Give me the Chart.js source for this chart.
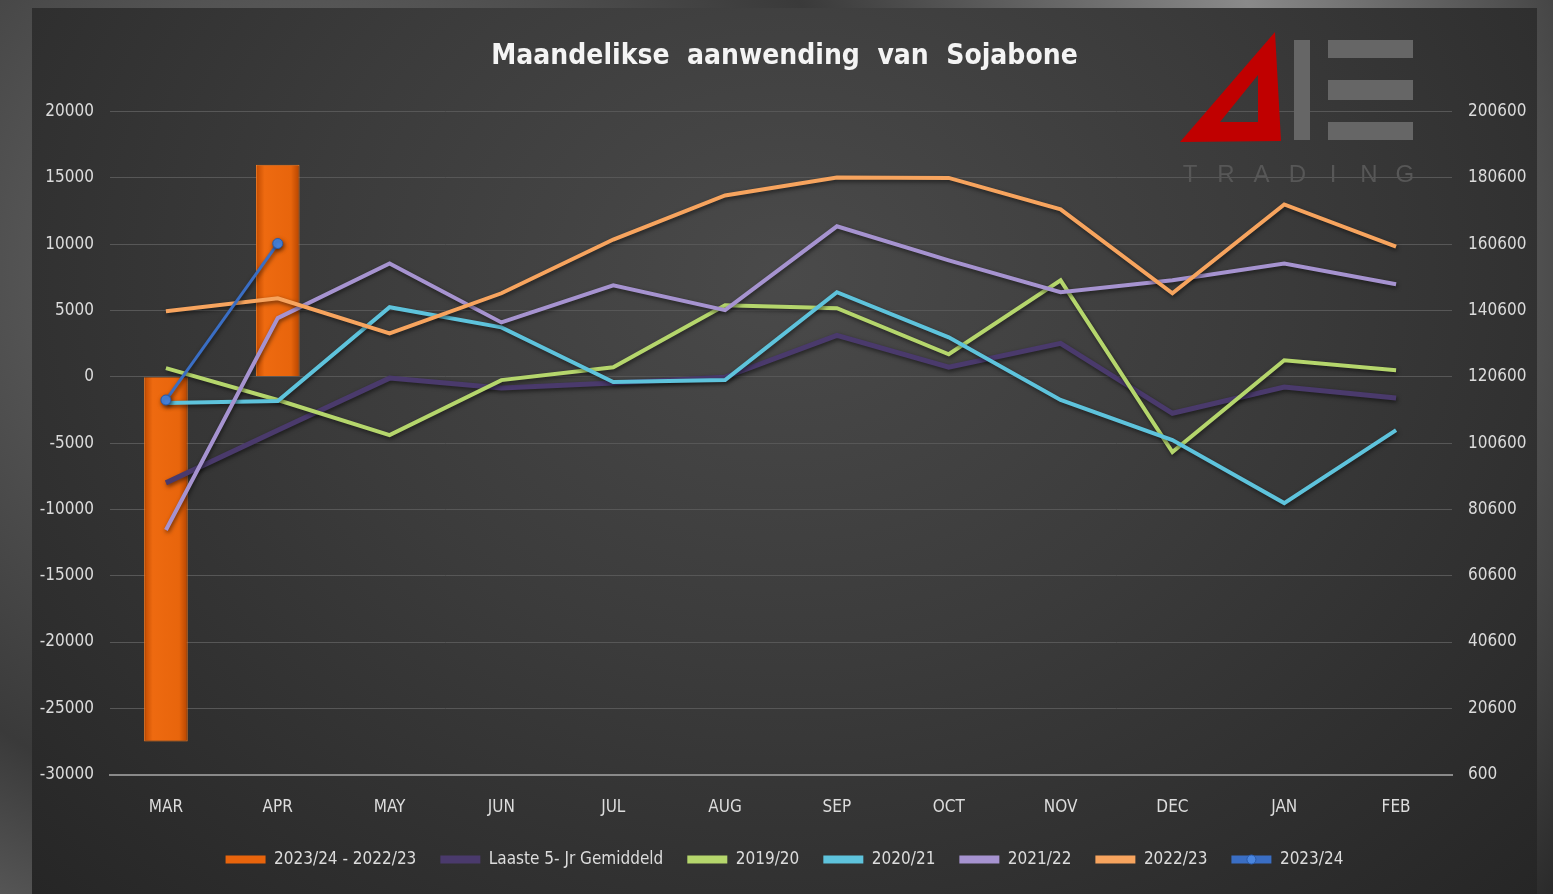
<!DOCTYPE html>
<html>
<head>
<meta charset="utf-8">
<script src="https://cdn.jsdelivr.net/npm/chart.js@4/dist/chart.umd.min.js"></script>
<style>
  html, body { margin: 0; padding: 0; }
  body {
    width: 1553px; height: 894px; overflow: hidden;
    background: radial-gradient(circle at 20% 30%, #6e6e6e 0%, #3a3a3a 40%, #8a8a8a 70%, #2a2a2a 100%);
  }
  #panel {
    position: absolute; left: 32px; top: 8px; width: 1505px; height: 886px;
    background: radial-gradient(ellipse at 50% 30%, #4a4a4a 0%, #3b3b3b 45%, #262626 100%);
  }
  #chart { position: absolute; left: 0; top: 0; }
</style>
</head>
<body>
<div id="panel"><canvas id="chart" width="1505" height="886"></canvas></div>
<script>
// categories
const months = ['MAR', 'APR', 'MAY', 'JUN', 'JUL', 'AUG', 'SEP', 'OCT', 'NOV', 'DEC', 'JAN', 'FEB'];

// verskil 2023/24 - 2022/23 (linker as)
const diff = [-27500, 16000, null, null, null, null, null, null, null, null, null, null];

// reekse op die regter as
const avg5 = [88600, 104500, 120200, 117200, 118700, 120500, 133100, 123500, 130700, 109600, 117500, 114200];
const s2019 = [123200, 113600, 103000, 119600, 123500, 142200, 141300, 127400, 149700, 97900, 125600, 122600];
const s2020 = [112700, 113300, 141600, 135500, 119000, 119600, 146100, 132500, 113600, 101500, 82500, 104500];
const s2021 = [74400, 138300, 154800, 137000, 148200, 140700, 166000, 155700, 146100, 149700, 154800, 148500];
const s2022 = [140400, 144300, 133700, 145800, 162000, 175300, 180700, 180600, 171100, 145800, 172600, 159900];
const s2023 = [113600, 160800, null, null, null, null, null, null, null, null, null, null];

const FONT = "'DejaVu Sans Condensed', 'Liberation Sans Narrow', 'Roboto Condensed', 'Liberation Sans', sans-serif";

// oranje staaf met 'n effense 3D-gradient
function barFill(ctx) {
  const chart = ctx.chart;
  const xs = chart.scales && chart.scales.x;
  if (!xs || !chart.chartArea || ctx.dataIndex === undefined) return '#e0600a';
  const cx = xs.getPixelForValue(ctx.dataIndex);
  if (!Number.isFinite(cx)) return '#e0600a';
  const w = 22;
  const g = chart.ctx.createLinearGradient(cx - w, 0, cx + w, 0);
  g.addColorStop(0, '#c04a00');
  g.addColorStop(0.2, '#ee6a10');
  g.addColorStop(0.8, '#e8650c');
  g.addColorStop(1, '#b44400');
  return g;
}

// logo regs bo
const logoPlugin = {
  id: 'logo',
  beforeDatasetsDraw(chart) {
    const c = chart.ctx;
    c.save();
    c.fillStyle = '#c00000';
    c.beginPath();
    c.moveTo(1148, 134);
    c.lineTo(1243, 24);
    c.lineTo(1249, 133);
    c.closePath();
    c.moveTo(1188, 114);
    c.lineTo(1226, 114);
    c.lineTo(1226, 67);
    c.closePath();
    c.fill('evenodd');
    c.fillStyle = '#666666';
    c.fillRect(1262, 32, 16, 100);
    c.fillRect(1296, 32, 85, 18);
    c.fillRect(1296, 72, 85, 20);
    c.fillRect(1296, 114, 85, 18);
    c.fillStyle = '#575757';
    c.font = "24px 'Liberation Sans', sans-serif";
    c.textAlign = 'center';
    c.textBaseline = 'middle';
    const letters = 'TRADING'.split('');
    letters.forEach((ch, i) => {
      c.fillText(ch, 1158 + i * 35.8, 167);
    });
    c.restore();
  }
};

// lyne kry 'n sagte skaduwee
const shadowPlugin = {
  id: 'lineShadow',
  beforeDatasetDraw(chart, args) {
    if (args.meta.type === 'line') {
      const c = chart.ctx;
      c.save();
      c.shadowColor = 'rgba(0,0,0,0.55)';
      c.shadowBlur = 4;
      c.shadowOffsetX = 1;
      c.shadowOffsetY = 2;
    }
  },
  afterDatasetDraw(chart, args) {
    if (args.meta.type === 'line') chart.ctx.restore();
  }
};

// merker-kolletjie op die legende van 2023/24
const legendMarker = {
  id: 'legendMarker',
  afterDraw(chart) {
    const lg = chart.legend;
    if (!lg || !lg.legendHitBoxes) return;
    const idx = chart.data.datasets.length - 1;
    const hb = lg.legendHitBoxes[idx];
    if (!hb) return;
    const c = chart.ctx;
    c.save();
    c.fillStyle = '#4a86e0';
    c.strokeStyle = '#2a5aa8';
    c.beginPath();
    c.arc(hb.left + 20, hb.top + hb.height / 2, 4.5, 0, Math.PI * 2);
    c.fill();
    c.stroke();
    c.restore();
  }
};

function lineSet(label, data, color, width, order) {
  return {
    type: 'line',
    label: label,
    data: data,
    yAxisID: 'yR',
    borderColor: color,
    backgroundColor: color,
    borderWidth: width,
    pointRadius: 0,
    tension: 0,
    order: order
  };
}

const datasets = [
  {
    type: 'bar',
    label: '2023/24 - 2022/23',
    data: diff,
    yAxisID: 'yL',
    backgroundColor: barFill,
    borderColor: '#f07a22',
    borderWidth: 1,
    barPercentage: 0.78,
    categoryPercentage: 0.5,
    order: 10
  },
  lineSet('Laaste 5- Jr Gemiddeld', avg5, '#4a3a6c', 5, 6),
  lineSet('2019/20', s2019, '#b5d66c', 4, 5),
  lineSet('2020/21', s2020, '#5ec3dc', 4, 4),
  lineSet('2021/22', s2021, '#a693d0', 4, 3),
  lineSet('2022/23', s2022, '#f7a45e', 4, 2),
  Object.assign(lineSet('2023/24', s2023, '#3a6ec4', 3, 1), {
    pointRadius: 5,
    pointBackgroundColor: '#4a86e0',
    pointBorderColor: '#2a5aa8',
    pointBorderWidth: 1
  })
];

const tickFont = { family: FONT, size: 17, style: 'condensed' };

new Chart(document.getElementById('chart'), {
  data: { labels: months, datasets: datasets },
  plugins: [logoPlugin, shadowPlugin, legendMarker],
  options: {
    responsive: false,
    animation: false,
    events: [],
    layout: { padding: { left: 0, right: 0, top: 0, bottom: 16 } },
    plugins: {
      title: {
        display: true,
        text: 'Maandelikse  aanwending  van  Sojabone',
        color: '#f4f4f4',
        font: { family: FONT, size: 28, weight: 'bold', style: 'condensed' },
        padding: { top: 32, bottom: 38 }
      },
      legend: {
        position: 'bottom',
        labels: {
          color: '#dcdcdc',
          font: tickFont,
          boxWidth: 40,
          boxHeight: 8,
          padding: 24,
          generateLabels(chart) {
            return chart.data.datasets.map((ds, i) => ({
              text: ds.label,
              fillStyle: ds.type === 'bar' ? '#e8640c' : ds.borderColor,
              strokeStyle: ds.type === 'bar' ? '#e8640c' : ds.borderColor,
              lineWidth: 0,
              fontColor: '#dcdcdc',
              hidden: false,
              datasetIndex: i
            }));
          }
        }
      },
      tooltip: { enabled: false }
    },
    scales: {
      x: {
        offset: true,
        grid: { display: false, drawTicks: false },
        border: { display: true, color: '#8a8a8a', width: 2 },
        ticks: {
          color: '#dcdcdc',
          font: tickFont,
          padding: 23
        },
        afterFit(scale) { scale.height = scale.height - 14; }
      },
      yL: {
        position: 'left',
        min: -30000,
        max: 20000,
        grid: { color: '#575757', lineWidth: 1, drawTicks: false },
        border: { display: false },
        ticks: {
          stepSize: 5000,
          color: '#dcdcdc',
          font: tickFont,
          padding: 16,
          callback: v => String(v)
        },
        afterFit(scale) { scale.width = 78; }
      },
      yR: {
        position: 'right',
        min: 600,
        max: 200600,
        grid: { display: false, drawTicks: false },
        border: { display: false },
        ticks: {
          stepSize: 20000,
          color: '#dcdcdc',
          font: tickFont,
          padding: 16,
          callback: v => String(v)
        },
        afterFit(scale) { scale.width = 85; }
      }
    }
  }
});
</script>
</body>
</html>
